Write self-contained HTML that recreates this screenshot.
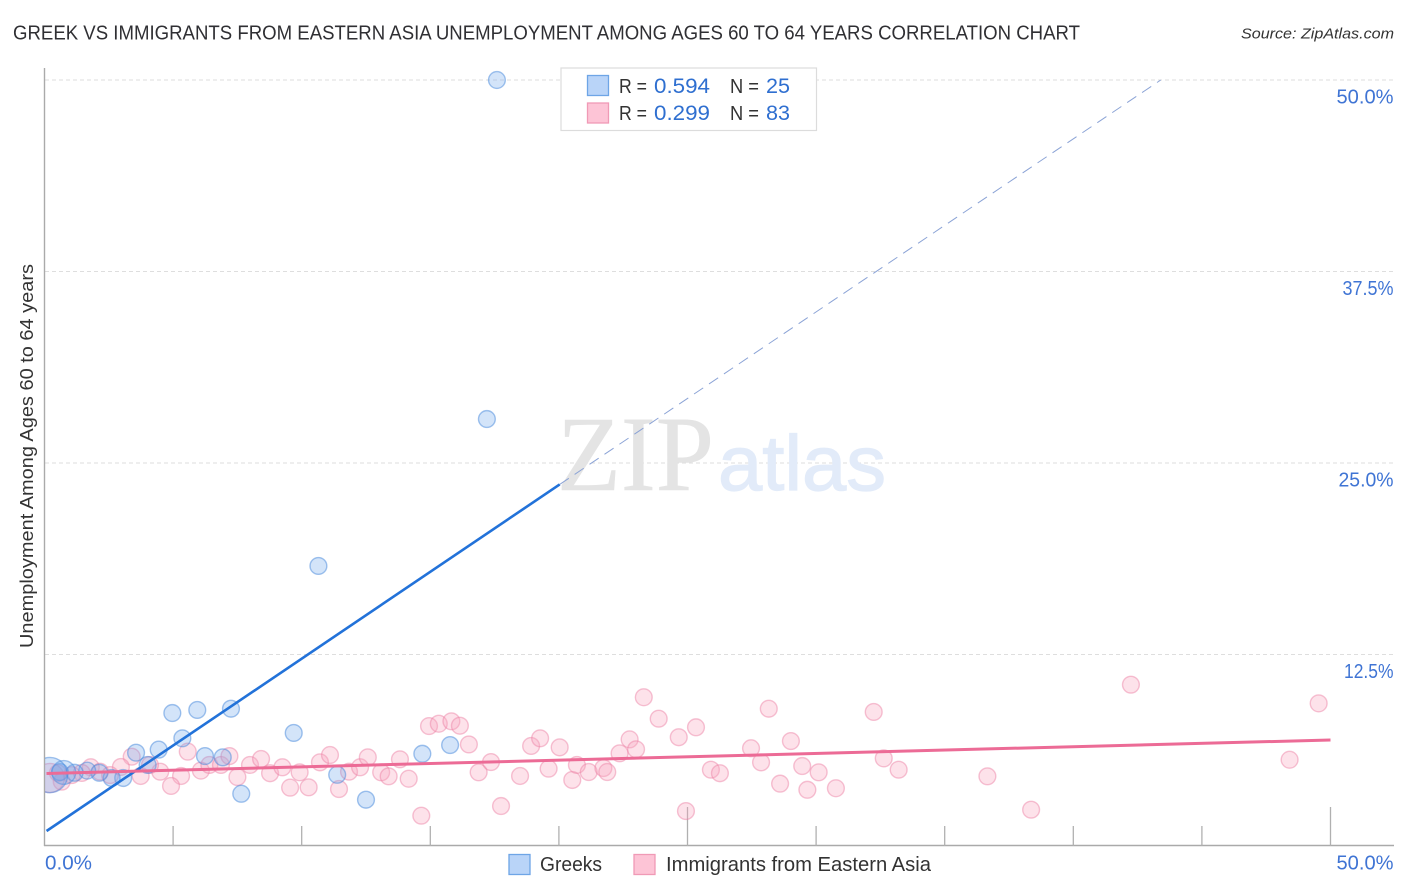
<!DOCTYPE html>
<html lang="en">
<head>
<meta charset="utf-8">
<title>Greek vs Immigrants from Eastern Asia Unemployment Chart</title>
<style>
html,body{margin:0;padding:0;background:#fff;width:1406px;height:892px;overflow:hidden}
svg{display:block}
text{font-family:"Liberation Sans",sans-serif}
</style>
</head>
<body>
<svg id="chart" width="1406" height="892" viewBox="0 0 1406 892" xmlns="http://www.w3.org/2000/svg">
  <defs>
    <clipPath id="plot-clip"><rect x="45" y="60" width="1349" height="786"/></clipPath>
  </defs>
  <text x="13" y="39.5" font-size="20" fill="#2f2f33" textLength="1067" lengthAdjust="spacingAndGlyphs">GREEK VS IMMIGRANTS FROM EASTERN ASIA UNEMPLOYMENT AMONG AGES 60 TO 64 YEARS CORRELATION CHART</text>
  <text x="1241" y="38.5" font-size="15" font-style="italic" fill="#333" textLength="153" lengthAdjust="spacingAndGlyphs">Source: ZipAtlas.com</text>
  <g id="grid"></g>
  <g>
    <text x="557" y="490" font-size="107" fill="#e4e4e4" stroke="#e4e4e4" stroke-width="0.6" textLength="157" lengthAdjust="spacingAndGlyphs" style="font-family:'Liberation Serif',serif">ZIP</text>
    <text x="718" y="490" font-size="78" fill="#e2ebf9" stroke="#e2ebf9" stroke-width="1.2" textLength="168" lengthAdjust="spacingAndGlyphs">atlas</text>
  </g>
  <g id="axes"></g>
  <g id="points-pink" clip-path="url(#plot-clip)"></g>
  <g id="points-blue" clip-path="url(#plot-clip)"></g>
  <g id="trends"></g>
  <g id="labels"></g>
  <text transform="translate(33,648) rotate(-90)" font-size="18.5" fill="#333" textLength="384" lengthAdjust="spacingAndGlyphs">Unemployment Among Ages 60 to 64 years</text>

  <g>
    <rect x="561" y="68" width="255.5" height="62.5" fill="#fff" stroke="#dcdcdc" stroke-width="1.2"/>
    <rect x="587.5" y="75.5" width="21" height="20" fill="#b9d4f8" stroke="#6ea5e6" stroke-width="1.3"/>
    <rect x="587.5" y="103" width="21" height="20" fill="#fdc4d6" stroke="#f09ab6" stroke-width="1.3"/>
    <text x="619" y="93" font-size="20" fill="#333" textLength="28" lengthAdjust="spacingAndGlyphs">R =</text>
    <text x="654" y="93" font-size="21" fill="#2f6fd0" textLength="56" lengthAdjust="spacingAndGlyphs">0.594</text>
    <text x="730" y="93" font-size="20" fill="#333" textLength="29" lengthAdjust="spacingAndGlyphs">N =</text>
    <text x="766" y="93" font-size="21" fill="#2f6fd0" textLength="24" lengthAdjust="spacingAndGlyphs">25</text>
    <text x="619" y="120" font-size="20" fill="#333" textLength="28" lengthAdjust="spacingAndGlyphs">R =</text>
    <text x="654" y="120" font-size="21" fill="#2f6fd0" textLength="56" lengthAdjust="spacingAndGlyphs">0.299</text>
    <text x="730" y="120" font-size="20" fill="#333" textLength="29" lengthAdjust="spacingAndGlyphs">N =</text>
    <text x="766" y="120" font-size="21" fill="#2f6fd0" textLength="24" lengthAdjust="spacingAndGlyphs">83</text>
  </g>

  <g>
    <rect x="509" y="854.5" width="21" height="20" fill="#b9d4f8" stroke="#6ea5e6" stroke-width="1.3"/>
    <text x="540" y="871" font-size="20" fill="#333" textLength="62" lengthAdjust="spacingAndGlyphs">Greeks</text>
    <rect x="634" y="854.5" width="21" height="20" fill="#fdc4d6" stroke="#f09ab6" stroke-width="1.3"/>
    <text x="666" y="871" font-size="20" fill="#333" textLength="265" lengthAdjust="spacingAndGlyphs">Immigrants from Eastern Asia</text>
  </g>
</svg>
<script>
const greeksX = [17.59,17.2,10.65,4.97,5.94,7.25,9.69,5.36,4.44,3.56,6.24,6.93,4.01,14.69,15.77,11.38,12.5,7.65,3.06,2.61,2.13,1.66,1.17,0.60,0.75,0.21];
const greeksY = [50.0,27.87,18.28,8.68,8.88,8.96,7.38,7.03,6.29,6.09,5.87,5.79,5.29,6.02,6.59,4.65,3.02,3.41,4.44,4.44,4.78,4.92,4.78,4.83,4.80,4.63];
const greeksWeight = [1,1,1,1,1,1,1,1,1,1,1,1,1,1,1,1,1,1,1,1,1,1,1,1,2,4.4];
const immigrantsX = [5.57,3.39,2.97,3.74,4.50,4.10,5.31,4.92,6.08,6.41,6.86,7.19,7.50,7.99,8.42,8.77,9.25,9.55,9.92,10.27,10.71,11.10,11.45,11.84,12.27,12.57,13.09,13.38,13.82,14.16,14.65,14.95,15.33,15.82,16.15,16.5,1.80,2.16,2.55,1.45,1.06,0.67,0.52,0.21,16.88,17.36,17.75,18.49,18.92,19.27,19.60,20.03,20.52,20.70,21.16,21.73,21.88,22.36,22.75,23.0,23.30,23.88,24.66,25.33,24.94,25.91,26.26,27.47,27.86,28.16,28.60,29.02,29.46,29.66,30.10,30.77,32.24,32.63,33.21,36.66,38.36,42.24,48.41,49.54];
const immigrantsY = [6.16,5.83,5.16,4.57,4.85,5.29,4.57,3.92,4.92,5.29,5.29,5.87,4.50,5.29,5.68,4.75,5.14,3.81,4.81,3.83,5.46,5.94,3.72,4.85,5.14,5.79,4.81,4.55,5.66,4.39,1.98,7.83,7.98,8.14,7.85,6.63,5.14,4.85,4.63,4.77,4.63,4.20,4.77,4.44,4.81,5.48,2.61,4.57,6.53,7.03,5.05,6.44,4.31,5.29,4.83,5.09,4.83,6.05,6.96,6.31,9.71,8.31,7.10,7.75,2.28,4.98,4.75,6.38,5.46,8.96,4.07,6.85,5.22,3.67,4.81,3.77,8.75,5.72,4.98,4.55,2.37,10.53,5.63,9.31];
const immigrantsWeight = [1,1,1,1,1,1,1,1,1,1,1,1,1,1,1,1,1,1,1,1,1,1,1,1,1,1,1,1,1,1,1,1,1,1,1,1,1,1,1,1,1,1,1,3,1,1,1,1,1,1,1,1,1,1,1,1,1,1,1,1,1,1,1,1,1,1,1,1,1,1,1,1,1,1,1,1,1,1,1,1,1,1,1,1];
const greeksTrendStart = [0.08, 0.98];
const greeksTrendSolidEnd = [20.03, 23.6];
const greeksTrendDashedEnd = [43.4, 50.0];
const immigrantsTrendStart = [0, 4.73];
const immigrantsTrendEnd = [50, 6.92];
const xTickValues = [5,10,15,20,25,30,35,40,45,50];
const xMajorTicks = [25,50];
const yGridValues = [12.5,25,37.5,50];
const yTickLabels = ["12.5%","25.0%","37.5%","50.0%"];
const xEndLabels = ["0.0%","50.0%"];

const NS = "http://www.w3.org/2000/svg";
const labelFit = {"12.5%":49.5,"25.0%":55,"37.5%":51,"50.0%":57,"0.0%":47};
function xScale(v){ return 44.5 + v * 25.72; }
function yScale(v){ return 846 - v * 15.32; }
function make(tag, attrs, parent){
  const el = document.createElementNS(NS, tag);
  for (const k in attrs) el.setAttribute(k, attrs[k]);
  parent.appendChild(el);
  return el;
}
function fitLabel(el, text){
  el.textContent = text;
  if (labelFit[text]) {
    el.setAttribute("textLength", labelFit[text]);
    el.setAttribute("lengthAdjust", "spacingAndGlyphs");
  }
}
const gridG = document.getElementById("grid");
const axesG = document.getElementById("axes");
const labelsG = document.getElementById("labels");
const pinkG = document.getElementById("points-pink");
const blueG = document.getElementById("points-blue");
const trendG = document.getElementById("trends");

yGridValues.forEach(function(v, i){
  const gl = make("line", {x1:45, x2:1394, y1:yScale(v), y2:yScale(v), stroke:"#dedede", "stroke-width":1, "stroke-dasharray":"4 3"}, gridG);
  
  
  const lbl = make("text", {x:1393.5, y:yScale(v)+23.5, "text-anchor":"end", "font-size":20, fill:"#3f74d4"}, labelsG);
  fitLabel(lbl, yTickLabels[i]);
  
  
});

const yAxis = make("line", {x1:44.5, x2:44.5, y1:68, y2:846, stroke:"#aaa", "stroke-width":1.4}, axesG);


const xAxis = make("line", {x1:44, x2:1394, y1:845.5, y2:845.5, stroke:"#aaa", "stroke-width":1.4}, axesG);


xTickValues.forEach(function(v){
  const top = xMajorTicks.indexOf(v) >= 0 ? 807 : 826;
  const t = make("line", {x1:xScale(v), x2:xScale(v), y1:top, y2:846, stroke:"#b0b0b0", "stroke-width":1.3}, axesG);
  
  
});

const xLabelStart = make("text", {x:45, y:869.5, "font-size":20, fill:"#3f74d4"}, labelsG);
fitLabel(xLabelStart, xEndLabels[0]);


const xLabelEnd = make("text", {x:1393.5, y:869.5, "text-anchor":"end", "font-size":20, fill:"#3f74d4"}, labelsG);
fitLabel(xLabelEnd, xEndLabels[1]);



immigrantsX.forEach(function(v, i){
  const c = make("circle", {cx:xScale(v), cy:yScale(immigrantsY[i]), r:8.4*Math.sqrt(immigrantsWeight[i]), fill:"rgba(248,165,190,0.32)", stroke:"rgba(236,130,165,0.48)", "stroke-width":1.4}, pinkG);
  
  
});
greeksX.forEach(function(v, i){
  const c = make("circle", {cx:xScale(v), cy:yScale(greeksY[i]), r:8.4*Math.sqrt(greeksWeight[i]), fill:"rgba(110,165,235,0.3)", stroke:"rgba(70,135,220,0.5)", "stroke-width":1.4}, blueG);
  
  
});

const dashLine = make("line", {x1:xScale(greeksTrendSolidEnd[0]), y1:yScale(greeksTrendSolidEnd[1]), x2:xScale(greeksTrendDashedEnd[0]), y2:yScale(greeksTrendDashedEnd[1]), stroke:"#8ba3d6", "stroke-width":1, "stroke-dasharray":"11 7"}, trendG);


const blueLine = make("line", {x1:xScale(greeksTrendStart[0]), y1:yScale(greeksTrendStart[1]), x2:xScale(greeksTrendSolidEnd[0]), y2:yScale(greeksTrendSolidEnd[1]), stroke:"#2272d9", "stroke-width":2.6}, trendG);


const pinkLine = make("line", {x1:xScale(immigrantsTrendStart[0])+2, y1:yScale(immigrantsTrendStart[1]), x2:xScale(immigrantsTrendEnd[0]), y2:yScale(immigrantsTrendEnd[1]), stroke:"#ec6b96", "stroke-width":3}, trendG);


</script>
</body>
</html>
